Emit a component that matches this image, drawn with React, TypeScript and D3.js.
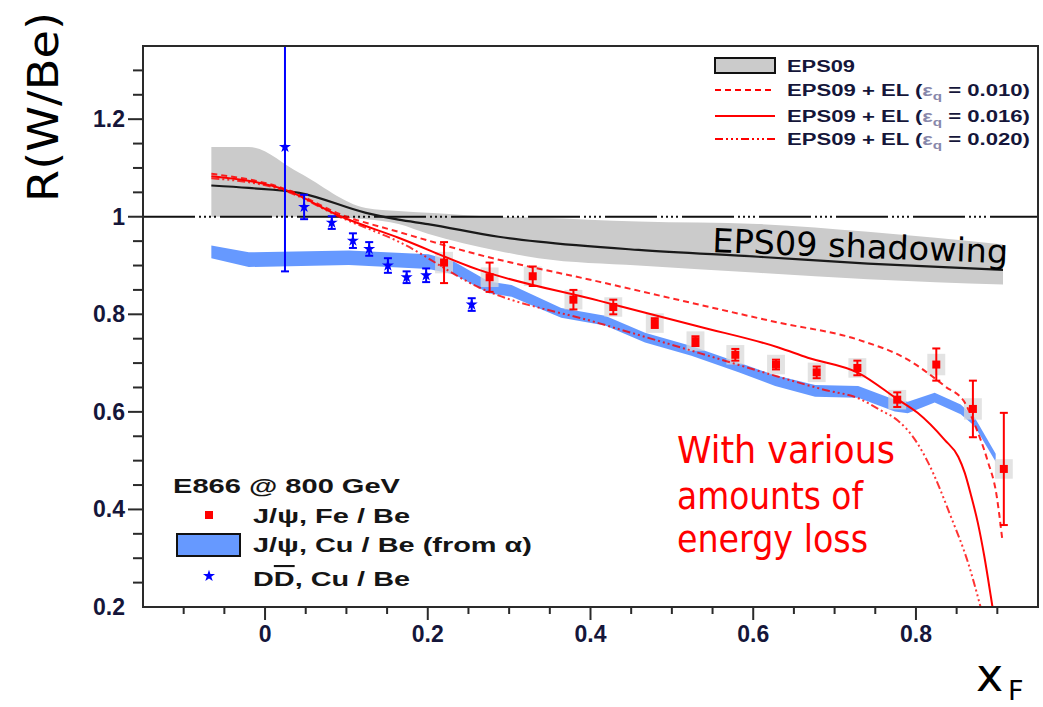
import React from "react";
import * as d3 from "d3";

// ---------- axis ticks ----------
const xTickValues = [0, 0.2, 0.4, 0.6, 0.8];
const yTickValues = [0.2, 0.4, 0.6, 0.8, 1, 1.2];

// ---------- EPS09 band (grey) and central value ----------
const epsX = [-0.066, -0.02, 0.042, 0.124, 0.164, 0.2, 0.287, 0.336, 0.459, 0.606, 0.741, 0.907];
const epsCentral = [1.064, 1.059, 1.049, 1.008, 0.994, 0.985, 0.959, 0.949, 0.932, 0.918, 0.904, 0.891];
const epsUpper = [1.143, 1.143, 1.09, 1.018, 1.012, 1.008, 1.0, 0.998, 0.99, 0.985, 0.969, 0.943];
const epsLower = [1.0, 1.0, 1.0, 0.995, 0.985, 0.965, 0.93, 0.915, 0.9, 0.885, 0.872, 0.861];

// ---------- EPS09 + EL curves ----------
const el010X = [-0.066, 0.025, 0.094, 0.164, 0.263, 0.41, 0.533, 0.631, 0.729, 0.79, 0.836, 0.86, 0.872, 0.888, 0.899, 0.906];
const el010Y = [1.088, 1.057, 1.004, 0.969, 0.922, 0.867, 0.82, 0.783, 0.748, 0.707, 0.652, 0.619, 0.575, 0.5, 0.43, 0.34];

const el016X = [-0.066, 0.025, 0.094, 0.164, 0.263, 0.41, 0.533, 0.631, 0.667, 0.729, 0.778, 0.802, 0.835, 0.852, 0.86, 0.868, 0.876, 0.884, 0.892, 0.895];
const el016Y = [1.083, 1.055, 1.0, 0.957, 0.891, 0.828, 0.775, 0.732, 0.711, 0.68, 0.625, 0.598, 0.543, 0.508, 0.475, 0.427, 0.373, 0.304, 0.222, 0.19];

const el020X = [-0.066, 0.025, 0.094, 0.164, 0.263, 0.41, 0.533, 0.631, 0.688, 0.729, 0.757, 0.778, 0.8, 0.815, 0.843, 0.864, 0.881];
const el020Y = [1.079, 1.053, 0.998, 0.949, 0.855, 0.782, 0.721, 0.672, 0.645, 0.628, 0.603, 0.582, 0.54, 0.496, 0.385, 0.291, 0.19];

// ---------- J/psi, Fe / Be (E866) ----------
const feX = [0.22, 0.276, 0.329, 0.379, 0.428, 0.479, 0.529, 0.578, 0.628, 0.678, 0.728, 0.777, 0.825, 0.87, 0.908];
const feY = [0.906, 0.876, 0.878, 0.83, 0.815, 0.782, 0.745, 0.717, 0.697, 0.681, 0.69, 0.625, 0.697, 0.606, 0.483];
const feErr = [0.042, 0.03, 0.02, 0.02, 0.015, 0.01, 0.01, 0.012, 0.01, 0.012, 0.015, 0.015, 0.033, 0.058, 0.115];
const feSys = [0.022, 0.02, 0.02, 0.02, 0.02, 0.02, 0.02, 0.02, 0.02, 0.02, 0.02, 0.02, 0.022, 0.022, 0.02];

// ---------- J/psi, Cu / Be (from alpha) band ----------
const cuX = [-0.066, -0.02, 0.103, 0.201, 0.232, 0.275, 0.303, 0.364, 0.418, 0.467, 0.524, 0.582, 0.627, 0.676, 0.729, 0.774, 0.79, 0.823, 0.855, 0.872, 0.898];
const cuY = [0.928, 0.912, 0.916, 0.908, 0.895, 0.855, 0.848, 0.803, 0.787, 0.752, 0.725, 0.691, 0.664, 0.643, 0.641, 0.613, 0.609, 0.629, 0.605, 0.58, 0.506];
const cuHalf = [0.013, 0.015, 0.015, 0.015, 0.013, 0.012, 0.012, 0.01, 0.01, 0.01, 0.01, 0.01, 0.011, 0.012, 0.012, 0.012, 0.012, 0.01, 0.01, 0.009, 0.008];

// ---------- D Dbar, Cu / Be ----------
const ddX = [0.0245, 0.048, 0.082, 0.108, 0.128, 0.151, 0.174, 0.198, 0.254];
const ddY = [1.143, 1.02, 0.988, 0.951, 0.934, 0.9, 0.876, 0.88, 0.82];
const ddErrLo = [0.255, 0.025, 0.013, 0.015, 0.014, 0.015, 0.012, 0.014, 0.013];
const ddErrHi = [0.3, 0.025, 0.013, 0.015, 0.014, 0.015, 0.012, 0.014, 0.013];

const RED = "#ff0000";
const BLUE = "#0000ff";
const BAND_BLUE = "#6699ff";
const GREY = "#cbcbcb";
const TXT = "#15163a";
const COMIC = "'DejaVu Sans', sans-serif";
const SANS = "'Liberation Sans', Arial, sans-serif";

export default function App() {
  const W = 1043;
  const H = 707;
  const x0 = 143, x1 = 1038, yTop = 46, yBot = 607;
  const x = d3.scaleLinear().domain([-0.15, 0.95]).range([x0, x1]);
  const y = d3.scaleLinear().domain([0.2, 1.35]).range([yBot, yTop]);

  const idx = (arr: number[]) => arr.map((_, i) => i);

  const epsArea = d3
    .area<number>()
    .x((i) => x(epsX[i]))
    .y0((i) => y(epsLower[i]))
    .y1((i) => y(epsUpper[i]))
    .curve(d3.curveMonotoneX)(idx(epsX)) as string;
  const epsLine = d3
    .line<number>()
    .x((i) => x(epsX[i]))
    .y((i) => y(epsCentral[i]))
    .curve(d3.curveMonotoneX)(idx(epsX)) as string;

  const cuArea = d3
    .area<number>()
    .x((i) => x(cuX[i]))
    .y0((i) => y(cuY[i] - cuHalf[i]))
    .y1((i) => y(cuY[i] + cuHalf[i]))
    .curve(d3.curveLinear)(idx(cuX)) as string;

  const mkLine = (X: number[], Y: number[]) =>
    d3
      .line<number>()
      .x((i) => x(X[i]))
      .y((i) => y(Y[i]))
      .curve(d3.curveMonotoneX)(idx(X)) as string;

  const l010 = mkLine(el010X, el010Y);
  const l016 = mkLine(el016X, el016Y);
  const l020 = mkLine(el020X, el020Y);

  const star = d3.symbol().type(d3.symbolStar).size(45)() as string;

  const isMajor = (v: number) => Math.abs(v * 5 - Math.round(v * 5)) < 1e-6;
  const xMinor = x.ticks(22).filter((v) => v > -0.149 && v < 0.949);
  const yMinor = y.ticks(23).filter((v) => v > 0.201 && v < 1.349);
  const fmt = d3.format("~g");

  const dashDot = "8,3,2,3,2,3,2,3";
  const oneLineDash = "52,4,2,3,2,3,2,3,2,4";

  return (
    <div style={{ position: "absolute", left: 0, top: 0 }}>
      <svg width={W} height={H} viewBox={`0 0 ${W} ${H}`} style={{ display: "block", background: "#fff" }}>
        <defs>
          <clipPath id="plot">
            <rect x={x0} y={yTop} width={x1 - x0} height={yBot - yTop} />
          </clipPath>
        </defs>

        <g clipPath="url(#plot)">
          {/* EPS09 grey band */}
          <path d={epsArea} fill={GREY} stroke="none" />
          {/* y = 1 reference line */}
          <line x1={x0} x2={x1} y1={y(1)} y2={y(1)} stroke="#111" strokeWidth={2} strokeDasharray={oneLineDash} />
          {/* J/psi Cu/Be band */}
          <path d={cuArea} fill={BAND_BLUE} stroke="none" />
          {/* EPS09 central */}
          <path d={epsLine} fill="none" stroke="#1a1a1a" strokeWidth={2.2} />
          {/* systematic boxes */}
          {feX.map((v, i) => (
            <rect
              key={"sys" + i}
              x={x(v - 0.011)}
              y={y(feY[i] + feSys[i])}
              width={x(v + 0.011) - x(v - 0.011)}
              height={y(feY[i] - feSys[i]) - y(feY[i] + feSys[i])}
              fill="#d9d9d9"
              opacity={0.75}
            />
          ))}
          {/* EL curves */}
          <path d={l010} fill="none" stroke={RED} strokeWidth={2} strokeDasharray="6,4" opacity={0.85} />
          <path d={l016} fill="none" stroke={RED} strokeWidth={2} />
          <path d={l020} fill="none" stroke={RED} strokeWidth={2} strokeDasharray={dashDot} opacity={0.8} />

          {/* J/psi Fe/Be points */}
          {feX.map((v, i) => {
            const cx = x(v);
            const yh = y(feY[i] + feErr[i]);
            const yl = y(feY[i] - feErr[i]);
            return (
              <g key={"fe" + i}>
                <line x1={cx} x2={cx} y1={yh} y2={yl} stroke={RED} strokeWidth={2} />
                <line x1={cx - 4} x2={cx + 4} y1={yh} y2={yh} stroke={RED} strokeWidth={2} />
                <line x1={cx - 4} x2={cx + 4} y1={yl} y2={yl} stroke={RED} strokeWidth={2} />
                <rect x={cx - 4} y={y(feY[i]) - 4} width={8} height={8} fill={RED} />
              </g>
            );
          })}

          {/* D Dbar points */}
          {ddX.map((v, i) => {
            const cx = x(v);
            const yh = y(ddY[i] + ddErrHi[i]);
            const yl = y(ddY[i] - ddErrLo[i]);
            return (
              <g key={"dd" + i}>
                <line x1={cx} x2={cx} y1={yh} y2={yl} stroke={BLUE} strokeWidth={2} />
                <line x1={cx - 4} x2={cx + 4} y1={yh} y2={yh} stroke={BLUE} strokeWidth={2} />
                <line x1={cx - 4} x2={cx + 4} y1={yl} y2={yl} stroke={BLUE} strokeWidth={2} />
                <path d={star} transform={`translate(${cx},${y(ddY[i])})`} fill={BLUE} />
              </g>
            );
          })}
        </g>

        {/* frame */}
        <rect x={x0} y={yTop} width={x1 - x0} height={yBot - yTop} fill="none" stroke="#2a2a2a" strokeWidth={2} />

        {/* x axis ticks */}
        {xMinor.map((v) => (
          <line
            key={"xt" + v}
            x1={x(v)}
            x2={x(v)}
            y1={yBot}
            y2={yBot + (isMajor(v) ? 13 : 7)}
            stroke="#2a2a2a"
            strokeWidth={2}
          />
        ))}
        {xTickValues.map((v) => (
          <text
            key={"xl" + v}
            x={x(v)}
            y={642}
            textAnchor="middle"
            fontFamily={SANS}
            fontWeight="bold"
            fontSize={23}
            fill={TXT}
          >
            {fmt(v)}
          </text>
        ))}

        {/* y axis ticks */}
        {yMinor.map((v) => (
          <line
            key={"yt" + v}
            x1={x0}
            x2={x0 - (isMajor(v) ? 15 : 10)}
            y1={y(v)}
            y2={y(v)}
            stroke="#2a2a2a"
            strokeWidth={2}
          />
        ))}
        {yTickValues.map((v) => (
          <text
            key={"yl" + v}
            x={125}
            y={y(v) + 8}
            textAnchor="end"
            fontFamily={SANS}
            fontWeight="bold"
            fontSize={23}
            fill={TXT}
          >
            {fmt(v)}
          </text>
        ))}

        {/* axis titles */}
        <text
          transform="translate(58,107) rotate(-90)"
          textAnchor="middle"
          fontFamily={COMIC}
          fontSize={42}
          fill="#000"
          textLength={190}
          lengthAdjust="spacingAndGlyphs"
        >
          R(W/Be)
        </text>
        <text x={976} y={691} fontFamily={COMIC} fontSize={46} fill="#000">
          x
        </text>
        <text x={1008} y={700} fontFamily={COMIC} fontSize={27} fill="#000">
          F
        </text>

        {/* annotations */}
        <text
          x={712}
          y={252}
          transform="rotate(2.2,712,252)"
          fontFamily={COMIC}
          fontSize={33}
          fill="#000"
          textLength={296}
          lengthAdjust="spacingAndGlyphs"
        >
          EPS09 shadowing
        </text>
        <g fontFamily={COMIC} fontSize={37} fill={RED}>
          <text x={677} y={463} textLength={218} lengthAdjust="spacingAndGlyphs">
            With various
          </text>
          <text x={677} y={509} textLength={186} lengthAdjust="spacingAndGlyphs">
            amounts of
          </text>
          <text x={677} y={552} textLength={191} lengthAdjust="spacingAndGlyphs">
            energy loss
          </text>
        </g>

        {/* top-right legend */}
        <g fontFamily={SANS} fontWeight="bold" fontSize={16} fill={TXT}>
          <rect x={715} y={58} width={60} height={15} fill={GREY} stroke="#111" strokeWidth={2} />
          <text x={787} y={72} textLength={68} lengthAdjust="spacingAndGlyphs">
            EPS09
          </text>
          <line x1={715} x2={775} y1={90} y2={90} stroke={RED} strokeWidth={2} strokeDasharray="6,4" />
          <text x={787} y={96} textLength={243} lengthAdjust="spacingAndGlyphs">
            EPS09 + EL (<tspan fill="#8888aa">ε</tspan>
            <tspan fontSize={11} dy={4} fill="#8888aa">q</tspan>
            <tspan dy={-4}> = 0.010)</tspan>
          </text>
          <line x1={715} x2={775} y1={116} y2={116} stroke={RED} strokeWidth={2} />
          <text x={787} y={122} textLength={243} lengthAdjust="spacingAndGlyphs">
            EPS09 + EL (<tspan fill="#8888aa">ε</tspan>
            <tspan fontSize={11} dy={4} fill="#8888aa">q</tspan>
            <tspan dy={-4}> = 0.016)</tspan>
          </text>
          <line x1={715} x2={775} y1={139} y2={139} stroke={RED} strokeWidth={2} strokeDasharray={dashDot} />
          <text x={787} y={145} textLength={243} lengthAdjust="spacingAndGlyphs">
            EPS09 + EL (<tspan fill="#8888aa">ε</tspan>
            <tspan fontSize={11} dy={4} fill="#8888aa">q</tspan>
            <tspan dy={-4}> = 0.020)</tspan>
          </text>
        </g>

        {/* bottom-left legend */}
        <g fontFamily={SANS} fontWeight="bold" fontSize={21} fill="#151515">
          <text x={173} y={493} textLength={227} lengthAdjust="spacingAndGlyphs">
            E866 @ 800 GeV
          </text>
          <rect x={205} y={511} width={8} height={8} fill={RED} />
          <text x={253} y={523} textLength={157} lengthAdjust="spacingAndGlyphs">
            J/ψ, Fe / Be
          </text>
          <rect x={177} y={534} width={63} height={22} fill={BAND_BLUE} stroke="#111" strokeWidth={2} />
          <text x={253} y={552} textLength={279} lengthAdjust="spacingAndGlyphs">
            J/ψ, Cu / Be (from α)
          </text>
          <path d={star} transform="translate(209,576)" fill={BLUE} />
          <text x={253} y={586} textLength={157} lengthAdjust="spacingAndGlyphs">
            D<tspan textDecoration="overline" style={{ textDecoration: "overline" }}>D</tspan>, Cu / Be
          </text>
        </g>
      </svg>
    </div>
  );
}
